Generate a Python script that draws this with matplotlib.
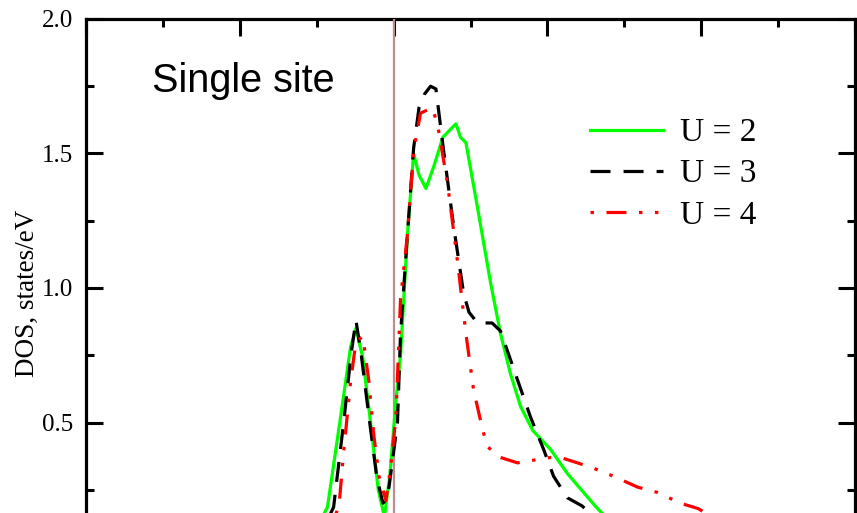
import matplotlib
matplotlib.use('Agg')
import matplotlib.pyplot as plt
from matplotlib.ticker import MultipleLocator, FormatStrFormatter

# energies (eV) and DOS
e_u2 = [-1.10, -0.86, -0.70, -0.56, -0.49, -0.40, -0.30, -0.20, -0.12, -0.05, 0.03, 0.09,
        0.18, 0.26, 0.33, 0.42, 0.52, 0.64, 0.74, 0.81, 0.87, 0.94, 1.09, 1.26, 1.39,
        1.52, 1.65, 1.81, 2.04, 2.26, 2.47, 2.62, 2.85]
dos_u2 = [0.05, 0.186, 0.50, 0.78, 0.85, 0.74, 0.50, 0.25, 0.15, 0.30, 0.58, 0.75,
          1.20, 1.50, 1.42, 1.37, 1.45, 1.56, 1.59, 1.61, 1.56, 1.54, 1.30, 1.02, 0.83,
          0.68, 0.56, 0.47, 0.40, 0.31, 0.24, 0.19, 0.12]

e_u3 = [-1.00, -0.78, -0.65, -0.55, -0.49, -0.42, -0.32, -0.22, -0.14, -0.10, -0.06,
        0.05, 0.09, 0.18, 0.26, 0.33, 0.40, 0.48, 0.55, 0.65, 0.78, 0.91, 0.98, 1.09,
        1.28, 1.39, 1.56, 1.78, 1.95, 2.08, 2.26, 2.45, 2.70]
dos_u3 = [0.05, 0.186, 0.50, 0.76, 0.88, 0.75, 0.52, 0.30, 0.20, 0.21, 0.26,
          0.50, 0.83, 1.20, 1.52, 1.67, 1.72, 1.75, 1.74, 1.51, 1.23, 0.98, 0.91, 0.87,
          0.87, 0.84, 0.70, 0.52, 0.40, 0.30, 0.22, 0.19, 0.12]

e_u4 = [-0.90, -0.71, -0.65, -0.56, -0.49, -0.40, -0.32, -0.26, -0.19, -0.10, -0.04,
        0.03, 0.09, 0.18, 0.26, 0.35, 0.50, 0.57, 0.70, 0.83, 0.94, 1.04, 1.16, 1.22,
        1.39, 1.61, 1.82, 2.04, 2.17, 2.39, 2.60, 2.86, 3.17, 3.43, 3.73, 3.96, 4.30]
dos_u4 = [0.05, 0.19, 0.39, 0.65, 0.80, 0.82, 0.65, 0.46, 0.30, 0.21, 0.33,
          0.52, 0.96, 1.20, 1.51, 1.65, 1.67, 1.61, 1.39, 1.10, 0.83, 0.62, 0.47, 0.41,
          0.37, 0.35, 0.36, 0.37, 0.37, 0.35, 0.33, 0.30, 0.26, 0.24, 0.20, 0.18, 0.12]

labels = ['U = 2', 'U = 3', 'U = 4']

plt.rcParams['lines.scale_dashes'] = False

fig = plt.figure(figsize=(8.57, 5.13), dpi=100)
# the original panel is cut off at the bottom
ax = fig.add_axes([0.1003, 0.0, 0.8975, 0.963])

lw = 2.3
ax.axvline(0.0, color='#bc8f8f', lw=1.6, zorder=2.6)
ax.plot(e_u2, dos_u2, color='#00ff00', lw=lw, label=labels[0], zorder=3)
ax.plot(e_u3, dos_u3, color='black', lw=lw, linestyle=(0, (14.4, 9.4)),
        label=labels[1], zorder=3)
ax.plot(e_u4, dos_u4, color='#ff0000', lw=lw,
        linestyle=(0, (2.5, 9, 14.4, 9, 2.5, 9)), label=labels[2], zorder=3)

ax.set_xlim(-4, 6)
ax.set_ylim(0.1636, 2.0)
ax.xaxis.set_major_locator(MultipleLocator(2))
ax.xaxis.set_minor_locator(MultipleLocator(1))
ax.yaxis.set_major_locator(MultipleLocator(0.5))
ax.yaxis.set_minor_locator(MultipleLocator(0.25))
ax.yaxis.set_major_formatter(FormatStrFormatter('%.1f'))

for s in ax.spines.values():
    s.set_linewidth(2.3)
ax.spines['bottom'].set_visible(False)
ax.tick_params(which='both', direction='in', top=True, right=True, bottom=False,
               width=2.2, labelbottom=False)
ax.tick_params(which='major', length=12, pad=9, labelsize=18)
ax.tick_params(which='minor', length=6)
for t in ax.get_yticklabels():
    t.set_fontfamily('Liberation Serif')

ax.set_ylabel('DOS, states/eV', family='Liberation Serif', fontsize=19.5, labelpad=2)
ax.yaxis.label.set_y(0.445)

ax.text(0.086, 0.852, 'Single site', transform=ax.transAxes,
        family='Liberation Sans', fontsize=28.5, va='baseline', ha='left')

ax.legend(loc='upper left', bbox_to_anchor=(0.655, 0.80), frameon=False,
          prop={'family': 'Liberation Serif', 'size': 24},
          handlelength=2.2, handletextpad=0.5, labelspacing=0.32,
          borderpad=0, borderaxespad=0)

fig.savefig('out.png', dpi=100)
